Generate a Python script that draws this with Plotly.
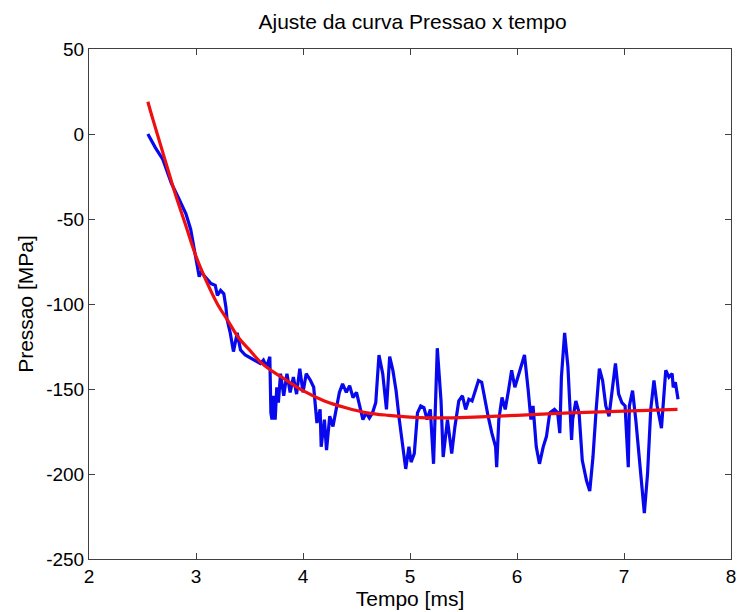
import plotly.graph_objects as go

# Measured pressure signal
tempo_ms = [
    2.55, 2.62, 2.69, 2.77, 2.84, 2.906, 2.95, 3.00, 3.03, 3.045, 3.09, 3.14, 3.18, 3.20,
    3.23, 3.26, 3.28, 3.29, 3.32, 3.35, 3.385, 3.416, 3.46, 3.54, 3.60, 3.63, 3.66, 3.69,
    3.70, 3.71, 3.725, 3.74, 3.755, 3.77, 3.79, 3.82, 3.85, 3.88, 3.91, 3.94, 3.97, 4.00,
    4.03, 4.07, 4.10, 4.13, 4.16, 4.17, 4.20, 4.22, 4.25, 4.28, 4.31, 4.34, 4.37, 4.405,
    4.436, 4.467, 4.50, 4.53, 4.56, 4.59, 4.62, 4.65, 4.68, 4.71, 4.745, 4.78, 4.81, 4.84,
    4.87, 4.90, 4.93, 4.96, 4.99, 5.01, 5.04, 5.07, 5.10, 5.13, 5.16, 5.19, 5.22, 5.235,
    5.255, 5.29, 5.31, 5.35, 5.39, 5.42, 5.456, 5.49, 5.52, 5.55, 5.58, 5.61, 5.64, 5.67,
    5.70, 5.73, 5.765, 5.80, 5.81, 5.83, 5.86, 5.89, 5.92, 5.95, 5.98, 6.01, 6.04, 6.07,
    6.105, 6.13, 6.15, 6.18, 6.21, 6.245, 6.275, 6.306, 6.35, 6.38, 6.40, 6.415, 6.445,
    6.476, 6.51, 6.52, 6.55, 6.58, 6.61, 6.65, 6.68, 6.71, 6.74, 6.77, 6.80, 6.83, 6.86,
    6.89, 6.92, 6.95, 6.98, 7.01, 7.04, 7.05, 7.08, 7.11, 7.14, 7.17, 7.19, 7.22, 7.25,
    7.28, 7.31, 7.35, 7.39, 7.42, 7.45, 7.46, 7.48, 7.505,
]
pressao_mpa = [
    0, -8, -15, -29, -38, -47, -56, -72, -84, -81, -84, -88, -89, -95,
    -92, -94, -102, -109, -117, -128, -117, -127, -130, -133, -135, -133, -137, -131,
    -164, -168, -154, -168, -149, -158, -141, -154, -141, -152, -143, -153, -138, -152,
    -141, -145, -149, -170, -162, -184, -168, -186, -166, -172, -162, -152, -147, -152,
    -148, -155, -152, -160, -168, -164, -167, -164, -158, -130, -141, -162, -131, -139,
    -151, -168, -184, -197, -184, -193, -188, -164, -160, -161, -168, -162, -194, -163,
    -126, -157, -190, -168, -188, -172, -157, -154, -162, -156, -157, -151, -145, -146,
    -157, -166, -176, -184, -196, -168, -155, -162, -151, -139, -149, -143, -137, -130,
    -151, -168, -160, -184, -194, -184, -178, -164, -162, -164, -176, -143, -117,
    -137, -180, -168, -157, -164, -192, -204, -210, -190, -162, -138, -145, -160, -166,
    -151, -135, -153, -158, -160, -196, -160, -151, -168, -190, -209, -223, -200, -162,
    -145, -160, -173, -139, -143, -141, -149, -146, -156,
]

# Fitted curve
tempo_ajuste = [2.55, 2.6, 2.7, 2.8, 2.9, 3.0, 3.1, 3.2, 3.3, 3.4, 3.5, 3.6, 3.7, 3.8,
                4.0, 4.2, 4.4, 4.6, 4.8, 5.0, 5.3, 5.6, 6.0, 6.5, 7.0, 7.5]
pressao_ajuste = [19, 8, -13, -34, -53, -72, -87, -100, -110, -120, -127, -134, -139, -143,
                  -151, -157, -161, -164, -165.5, -166.5, -167, -166.5, -165.5, -164, -163, -162]

x_ticks = [2, 3, 4, 5, 6, 7, 8]
y_ticks = [-250, -200, -150, -100, -50, 0, 50]

fig = go.Figure()
fig.add_trace(go.Scatter(
    x=tempo_ms, y=pressao_mpa, mode="lines",
    line=dict(color="#0808ee", width=3.2),
    showlegend=False,
))
fig.add_trace(go.Scatter(
    x=tempo_ajuste, y=pressao_ajuste, mode="lines",
    line=dict(color="#ee1010", width=3.2, shape="spline"),
    showlegend=False,
))

font_family = "Liberation Sans, Arial, Helvetica, sans-serif"
axis_common = dict(
    showgrid=False, zeroline=False,
    showline=True, linecolor="#404040", linewidth=1,
    mirror="ticks", ticks="inside", ticklen=6, tickcolor="#404040", tickwidth=1,
    ticklabeloverflow="allow",
    tickfont=dict(family=font_family, size=19, color="black"),
)

fig.update_layout(
    width=740, height=612,
    margin=dict(l=89, r=4, t=49, b=53),
    paper_bgcolor="white", plot_bgcolor="white",
    title=dict(
        text="Ajuste da curva Pressao x tempo",
        x=0.5575, xanchor="center", y=0.965, yanchor="middle",
        font=dict(family=font_family, size=21, color="black"),
    ),
    xaxis=dict(
        range=[2, 8], tickvals=x_ticks, ticktext=[str(v) for v in x_ticks],
        title=dict(text="Tempo [ms]", standoff=2,
                   font=dict(family=font_family, size=21, color="black")),
        **axis_common,
    ),
    yaxis=dict(
        range=[-250, 50], tickvals=y_ticks, ticktext=[str(v) for v in y_ticks],
        title=dict(text="Pressao [MPa]", standoff=6,
                   font=dict(family=font_family, size=21, color="black")),
        **axis_common,
    ),
)

fig.write_html("out.html")
